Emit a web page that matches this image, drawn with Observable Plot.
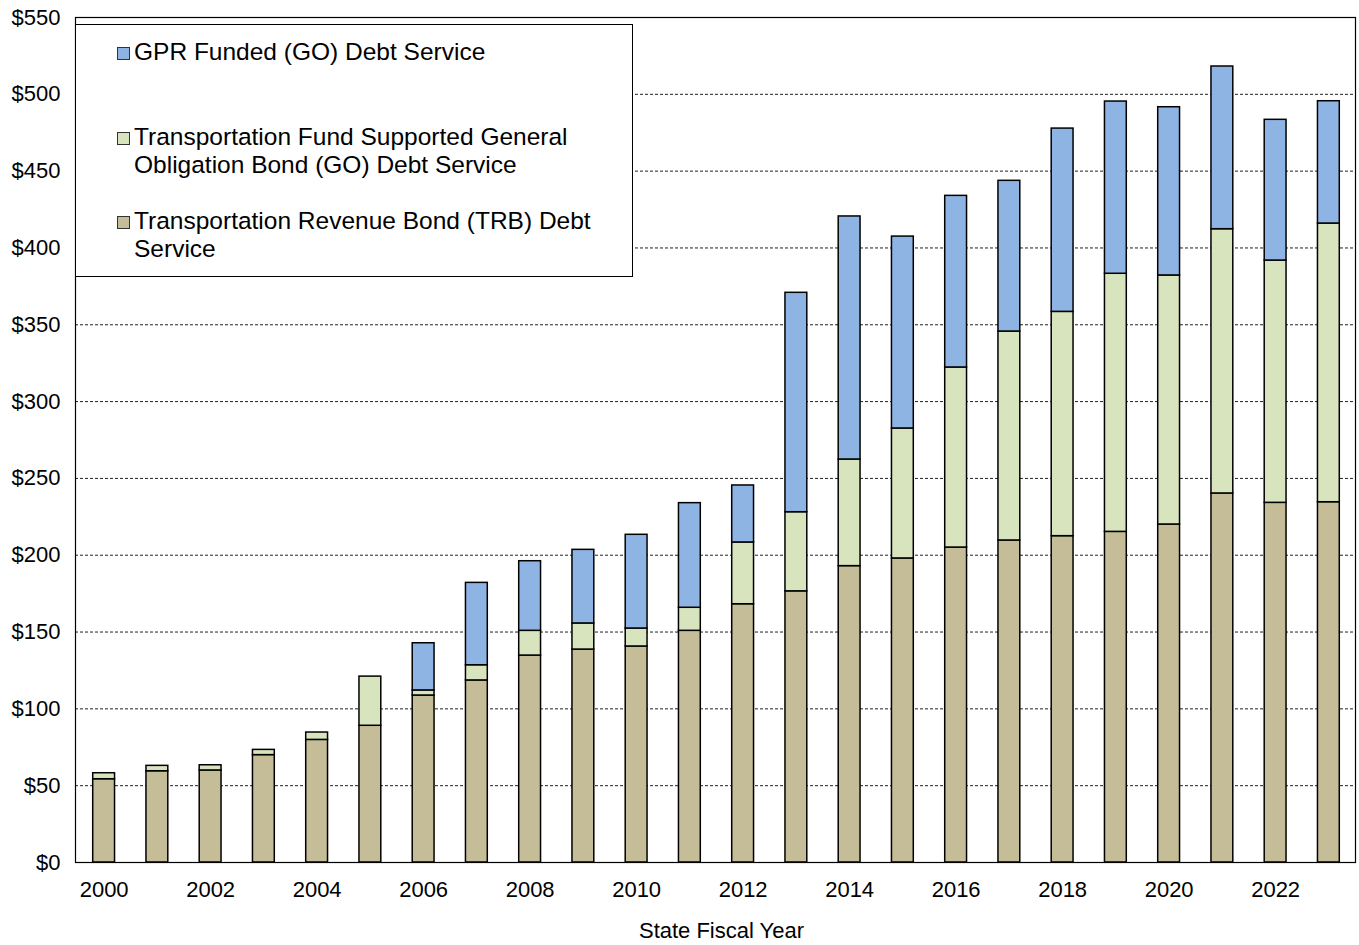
<!DOCTYPE html>
<html>
<head>
<meta charset="utf-8">
<script src="https://cdn.jsdelivr.net/npm/d3@7"></script>
<script src="https://cdn.jsdelivr.net/npm/@observablehq/plot@0.6"></script>
<style>
  html, body { margin: 0; padding: 0; background: #fff; }
  #wrap { position: relative; width: 1359px; height: 945px; font-family: "Liberation Sans", Arial, sans-serif; }
  #legend { position: absolute; left: 75px; top: 24px; width: 556px; height: 251px; background: #fff; border: 1px solid #000; font-size: 24.5px; color: #000; }
  .entry { position: absolute; left: 41px; line-height: 28px; }
  .sw { position: absolute; left: 0; width: 11px; height: 11px; border: 1px solid #333; }
  .lbl { position: absolute; left: 17px; white-space: nowrap; }
</style>
</head>
<body>
<div id="wrap"></div>
<script>
const years = ["2000","2001","2002","2003","2004","2005","2006","2007","2008","2009","2010","2011","2012","2013","2014","2015","2016","2017","2018","2019","2020","2021","2022","2023"];
const trb = [54.2, 59.4, 59.9, 69.9, 79.8, 89.0, 108.7, 118.5, 134.7, 138.6, 140.6, 150.8, 168.1, 176.5, 192.9, 197.9, 205.0, 209.6, 212.4, 215.2, 220.0, 240.2, 234.1, 234.5];
const tf  = [3.9, 3.5, 3.4, 3.4, 4.8, 32.0, 3.3, 9.9, 16.1, 17.0, 11.7, 15.0, 40.2, 51.5, 69.4, 84.6, 117.2, 136.0, 146.0, 168.0, 162.1, 172.0, 157.7, 181.4];
const gpr = [0, 0, 0, 0, 0, 0, 30.7, 53.6, 45.3, 47.9, 61.0, 68.1, 37.1, 142.8, 158.2, 124.9, 111.7, 98.1, 119.3, 112.1, 109.5, 105.9, 91.6, 79.6];
const seriesNames = ["Transportation Revenue Bond (TRB) Debt Service", "Transportation Fund Supported General Obligation Bond (GO) Debt Service", "GPR Funded (GO) Debt Service"];
const seriesColors = ["#C4BD97", "#D7E4BD", "#8EB4E3"];
const yTicks = [0, 50, 100, 150, 200, 250, 300, 350, 400, 450, 500, 550];
const xLabel = "State Fiscal Year";

const rows = [];
years.forEach((yr, i) => {
  [trb[i], tf[i], gpr[i]].forEach((v, k) => {
    if (v > 0) rows.push({year: yr, series: seriesNames[k], value: v, order: k});
  });
});

const chart = Plot.plot({
  width: 1359,
  height: 945,
  marginLeft: 75,
  marginRight: 4,
  marginTop: 17,
  marginBottom: 83,
  style: {fontFamily: '"Liberation Sans", Arial, sans-serif', fontSize: "22px", color: "#000", background: "#fff"},
  x: {domain: years, paddingInner: 0.59, paddingOuter: 0.295, insetLeft: 2, round: false, label: null},
  y: {domain: [0, 550], ticks: yTicks, label: null},
  color: {domain: seriesNames, range: seriesColors},
  marks: [
    Plot.gridY(yTicks, {stroke: "#222", strokeOpacity: 1, strokeDasharray: "3,2", strokeWidth: 1}),
    Plot.barY(rows, {x: "year", y: "value", fill: "series", order: seriesNames, stroke: "#000", strokeWidth: 1.5}),
    Plot.frame({stroke: "#000", strokeWidth: 1.2}),
    Plot.axisY(yTicks, {tickSize: 0, tickPadding: 15, tickFormat: d => "$" + d, fontSize: 22, label: null}),
    Plot.axisX(years.filter((d, i) => i % 2 === 0), {tickSize: 0, tickPadding: 19, fontSize: 22, label: null}),
    Plot.text([xLabel], {frameAnchor: "bottom", dy: 75, dx: 6, fontSize: 22, fill: "#000"})
  ]
});

const wrap = document.getElementById("wrap");
wrap.appendChild(chart);

const legend = document.createElement("div");
legend.id = "legend";
const entries = [
  {color: seriesColors[2], top: 13, lines: ["GPR Funded (GO) Debt Service"]},
  {color: seriesColors[1], top: 98, lines: ["Transportation Fund Supported General", "Obligation Bond (GO) Debt Service"]},
  {color: seriesColors[0], top: 182, lines: ["Transportation Revenue Bond (TRB) Debt", "Service"]}
];
entries.forEach(e => {
  const div = document.createElement("div");
  div.className = "entry";
  div.style.top = e.top + "px";
  const sw = document.createElement("div");
  sw.className = "sw";
  sw.style.background = e.color;
  sw.style.top = "9px";
  const lbl = document.createElement("div");
  lbl.className = "lbl";
  lbl.innerHTML = e.lines.join("<br>");
  div.appendChild(sw);
  div.appendChild(lbl);
  legend.appendChild(div);
});
wrap.appendChild(legend);
</script>
</body>
</html>
